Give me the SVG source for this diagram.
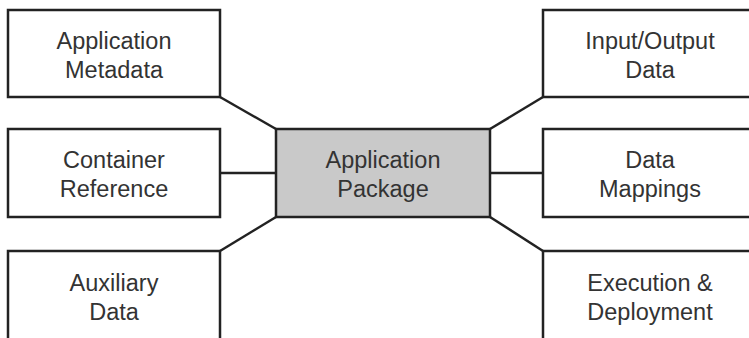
<svg xmlns="http://www.w3.org/2000/svg" width="749" height="338" viewBox="0 0 749 338">
<style>
.box{fill:#fff;stroke:#222;stroke-width:2.5}
.main{fill:#c9c9c9;stroke:#222;stroke-width:2.5}
.lbl{font-family:"Liberation Sans",Arial,sans-serif;font-size:23.5px;fill:#333;text-anchor:middle}
.con line{stroke:#222;stroke-width:2.5}
</style>
<rect width="749" height="338" fill="#fff"/>
<g id="connectors" class="con">
<line x1="220" y1="97" x2="276" y2="129"/>
<line x1="220" y1="173" x2="276" y2="173"/>
<line x1="220" y1="251" x2="276" y2="217"/>
<line x1="490" y1="129" x2="543" y2="97"/>
<line x1="490" y1="173" x2="543" y2="173"/>
<line x1="490" y1="217" x2="543" y2="251"/>
</g>
<g id="app-metadata"><rect class="box" x="8" y="10" width="212" height="87"/><text class="lbl" x="114" y="49">Application</text><text class="lbl" x="114" y="78">Metadata</text></g>
<g id="container-ref"><rect class="box" x="8" y="129" width="212" height="88"/><text class="lbl" x="114" y="168">Container</text><text class="lbl" x="114" y="197">Reference</text></g>
<g id="aux-data"><rect class="box" x="8" y="251" width="212" height="100"/><text class="lbl" x="114" y="291">Auxiliary</text><text class="lbl" x="114" y="320">Data</text></g>
<g id="app-package"><rect class="main" x="276" y="129" width="214" height="88"/><text class="lbl" x="383" y="168">Application</text><text class="lbl" x="383" y="197">Package</text></g>
<g id="io-data"><rect class="box" x="543" y="10" width="214" height="87"/><text class="lbl" x="650" y="49">Input/Output</text><text class="lbl" x="650" y="78">Data</text></g>
<g id="data-mappings"><rect class="box" x="543" y="129" width="214" height="88"/><text class="lbl" x="650" y="168">Data</text><text class="lbl" x="650" y="197">Mappings</text></g>
<g id="exec-deploy"><rect class="box" x="543" y="251" width="214" height="100"/><text class="lbl" x="650" y="291">Execution &amp;</text><text class="lbl" x="650" y="320">Deployment</text></g>
</svg>
